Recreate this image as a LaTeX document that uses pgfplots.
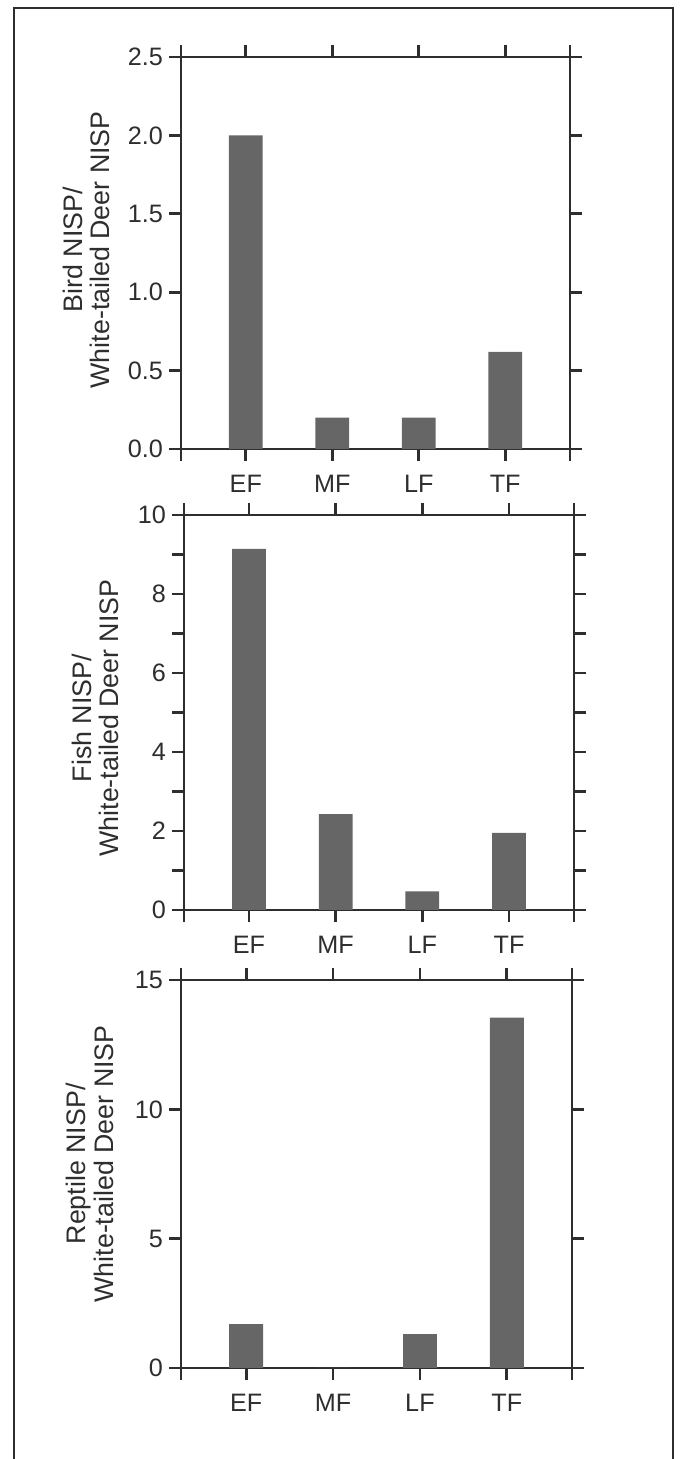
\documentclass[border=0pt]{standalone}
\usepackage{fontspec}
\setmainfont{Liberation Sans}
\usepackage{pgfplots}
\pgfplotsset{compat=1.18}
\definecolor{axc}{HTML}{2E2E2E}
\definecolor{barc}{HTML}{666666}
\pgfplotsset{
  myax/.style={
    scale only axis,
    anchor=south west,
    xmin=-0.75, xmax=3.75,
    xtick={-0.75,0,1,2,3,3.75},
    xticklabels={,EF,MF,LF,TF,},
    xtick pos=both, ytick pos=both,
    xticklabel pos=lower, yticklabel pos=left,
    tick align=outside,
    major tick length=6pt,
    axis line style={axc, line width=1.4pt},
    tick style={axc, line width=1.4pt},
    tick label style={text=axc, font=\fontsize{12.6}{14}\selectfont},
    xticklabel style={yshift=-3.5pt},
    yticklabel style={xshift=0.5pt},
    ylabel style={align=center, anchor=center, rotate=0, text=axc, font=\fontsize{13.4}{13.6}\selectfont},
    ybar, bar width=0.39,
    enlargelimits=false,
    clip=false,
  },
  mybar/.style={fill=barc, draw=none, bar shift=0pt},
}
\begin{document}
\begin{tikzpicture}
\useasboundingbox (0,0) rectangle (340pt,729.5pt);
\draw[axc, line width=1.4pt] (7pt,-2pt) -- (7pt,725.5pt) -- (336.5pt,725.5pt) -- (336.5pt,-2pt);

\begin{axis}[myax, at={(90.5pt,505pt)}, width=194.5pt, height=196pt,
  ymin=0, ymax=2.5, ytick={0,0.5,1,1.5,2,2.5},
  yticklabels={0.0,0.5,1.0,1.5,2.0,2.5},
  ylabel={Bird NISP/\\White-tailed Deer NISP},
  ylabel style={at={(axis description cs:-0.243,0.508)}}]
\addplot[mybar] coordinates {(0,2.0) (1,0.2) (2,0.2) (3,0.62)};
\end{axis}

\begin{axis}[myax, at={(92pt,274.5pt)}, width=195pt, height=197.5pt,
  ymin=0, ymax=10, ytick={0,1,2,3,4,5,6,7,8,9,10},
  yticklabels={0,,2,,4,,6,,8,,10},
  ylabel={Fish NISP/\\White-tailed Deer NISP},
  ylabel style={at={(axis description cs:-0.228,0.486)}}]
\addplot[mybar] coordinates {(0,9.14) (1,2.43) (2,0.47) (3,1.95)};
\end{axis}

\begin{axis}[myax, at={(90.5pt,45.5pt)}, width=195.5pt, height=194pt,
  ymin=0, ymax=15, ytick={0,5,10,15},
  yticklabels={0,5,10,15},
  ylabel={Reptile NISP/\\White-tailed Deer NISP},
  ylabel style={at={(axis description cs:-0.233,0.526)}}]
\addplot[mybar] coordinates {(0,1.7) (1,0) (2,1.31) (3,13.55)};
\end{axis}
\end{tikzpicture}
\end{document}
